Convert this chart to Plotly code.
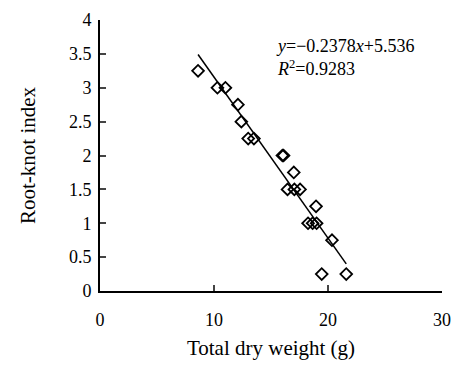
import plotly.graph_objects as go

dry_weight = [8.6, 10.3, 11.0, 12.1, 12.4, 13.0, 13.5, 16.0, 16.1, 17.0,
              16.45, 17.05, 17.55, 18.95, 18.25, 18.65, 19.0, 20.35, 19.45, 21.6]
root_knot = [3.25, 3.0, 3.0, 2.75, 2.5, 2.25, 2.25, 2.0, 2.0, 1.75,
             1.5, 1.5, 1.5, 1.25, 1.0, 1.0, 1.0, 0.75, 0.25, 0.25]

slope = -0.2378
intercept = 5.536
fit_x = [8.6, 21.6]
fit_y = [slope * v + intercept for v in fit_x]

x_ticks = [0, 10, 20, 30]
y_ticks = [0, 0.5, 1, 1.5, 2, 2.5, 3, 3.5, 4]

font = "Liberation Serif, Times New Roman, serif"

fig = go.Figure()
fig.add_trace(go.Scatter(x=fit_x, y=fit_y, mode="lines",
                         line=dict(color="black", width=1.5), showlegend=False))
fig.add_trace(go.Scatter(x=dry_weight, y=root_knot, mode="markers",
                         marker=dict(symbol="diamond-open", size=9,
                                     color="black", line=dict(width=1.8, color="black")),
                         showlegend=False))

fig.add_annotation(x=0.51, y=0.862, xref="paper", yref="paper", xanchor="left", yanchor="middle",
                   align="left",
                   text="<i>y</i>=−0.2378<i>x</i>+5.536<br><i>R</i><sup>2</sup>=0.9283",
                   showarrow=False,
                   font=dict(family=font, size=18, color="black"))

fig.update_layout(
    width=453, height=367,
    margin=dict(l=100, r=11, t=20, b=76),
    plot_bgcolor="white", paper_bgcolor="white",
    font=dict(family=font, size=18, color="black"),
    xaxis=dict(range=[0, 30], tickvals=x_ticks, ticks="inside", ticklen=6, tickwidth=1.5,
               showline=True, linecolor="black", linewidth=2, showgrid=False, zeroline=False,
               title=dict(text="Total dry weight (g)", font=dict(size=21), standoff=12),
               ticklabelstandoff=11, automargin=False),
    yaxis=dict(range=[0, 4], tickvals=y_ticks, ticks="inside", ticklen=6, tickwidth=1.5,
               showline=True, linecolor="black", linewidth=2, showgrid=False, zeroline=False,
               title=dict(text="Root-knot index", font=dict(size=21), standoff=28),
               ticklabelstandoff=3, automargin=False),
)

fig.write_html("out.html", config={"displayModeBar": False},
               post_script="document.body.style.margin='0px';")
